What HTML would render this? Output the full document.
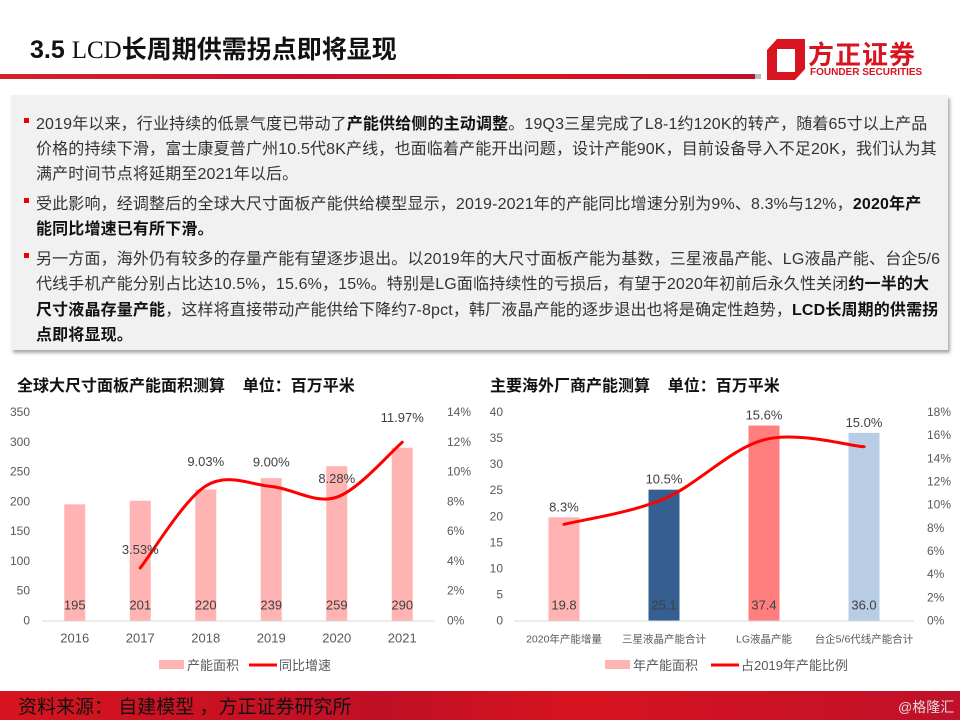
<!DOCTYPE html>
<html><head><meta charset="utf-8">
<style>
*{margin:0;padding:0;box-sizing:border-box}
body{width:960px;height:720px;background:#fff;position:relative;overflow:hidden;font-family:"Liberation Sans","Noto Sans CJK SC",sans-serif;color:#262626}
.abs{position:absolute}
.line{position:absolute;left:36px;font-size:16px;white-space:nowrap;color:#333;letter-spacing:0.15px}
.b{font-weight:bold;color:#111}
.bul{position:absolute;left:24px;width:5px;height:5px;background:#e00}
</style></head><body>
<div class="abs" style="left:30px;top:30px;font-size:25px;font-weight:bold;color:#111;font-family:'Liberation Sans','Noto Sans CJK SC',sans-serif">3.5 <span style="font-family:'Liberation Serif','Noto Serif CJK SC',serif;font-weight:normal">LCD</span>长周期供需拐点即将显现</div>
<div class="abs" style="left:0;top:74px;width:755px;height:5px;background:linear-gradient(90deg,#d2232a,#c8102e 40%,#d9141f 70%,#c0102a)"></div>
<div class="abs" style="left:755px;top:74px;width:6px;height:5px;background:#bbb"></div>
<svg class="abs" style="left:767px;top:39px" width="40" height="42"><path d="M10 0H38V30L28 41H0V11Z M10 10V33H28V10Z" fill="#d7141f" fill-rule="evenodd"/></svg>
<div class="abs" style="left:808px;top:35px;font-size:26px;font-weight:bold;color:#d7141f;letter-spacing:1px">方正证券</div>
<div class="abs" style="left:810px;top:67px;font-size:10px;font-weight:bold;color:#d7141f">FOUNDER SECURITIES</div>

<div class="abs" style="left:11px;top:95px;width:937px;height:255px;background:#f1f1f1;box-shadow:2px 3px 3px #aaa">
</div>
<div>
<div class="bul" style="top:118px"></div>
<div class="line" style="top:110px">2019年以来，行业持续的低景气度已带动了<span class="b">产能供给侧的主动调整</span>。19Q3三星完成了L8-1约120K的转产，随着65寸以上产品</div>
<div class="line" style="top:135px">价格的持续下滑，富士康夏普广州10.5代8K产线，也面临着产能开出问题，设计产能90K，目前设备导入不足20K，我们认为其</div>
<div class="line" style="top:160px">满产时间节点将延期至2021年以后。</div>
<div class="bul" style="top:198px"></div>
<div class="line" style="top:190px">受此影响，经调整后的全球大尺寸面板产能供给模型显示，2019-2021年的产能同比增速分别为9%、8.3%与12%，<span class="b">2020年产</span></div>
<div class="line" style="top:215px"><span class="b">能同比增速已有所下滑。</span></div>
<div class="bul" style="top:253px"></div>
<div class="line" style="top:245px">另一方面，海外仍有较多的存量产能有望逐步退出。以2019年的大尺寸面板产能为基数，三星液晶产能、LG液晶产能、台企5/6</div>
<div class="line" style="top:270px">代线手机产能分别占比达10.5%，15.6%，15%。特别是LG面临持续性的亏损后，有望于2020年初前后永久性关闭<span class="b">约一半的大</span></div>
<div class="line" style="top:296px"><span class="b">尺寸液晶存量产能</span>，这样将直接带动产能供给下降约7-8pct，韩厂液晶产能的逐步退出也将是确定性趋势，<span class="b">LCD长周期的供需拐</span></div>
<div class="line" style="top:321px"><span class="b">点即将显现。</span></div>
</div>

<div class="abs" style="left:17px;top:372px;font-size:16px;font-weight:bold;color:#111;white-space:nowrap">全球大尺寸面板产能面积测算&nbsp;&nbsp;&nbsp;&nbsp;单位：百万平米</div>
<div class="abs" style="left:490px;top:372px;font-size:16px;font-weight:bold;color:#111;white-space:nowrap">主要海外厂商产能测算&nbsp;&nbsp;&nbsp;&nbsp;单位：百万平米</div>

<svg class="abs" id="charts" style="left:0;top:0" width="960" height="720" font-family="Liberation Sans, Noto Sans CJK SC, sans-serif"></svg>

<div class="abs" style="left:0;top:691px;width:960px;height:29px;background:linear-gradient(90deg,#d7141f,#c00f25 40%,#d7141f 60%,#c0102a)"></div>
<div class="abs" style="left:18px;top:692px;font-size:19px;color:#111;white-space:nowrap">资料来源： 自建模型 ，方正证券研究所</div>
<div class="abs" style="left:898px;top:697px;font-size:14px;color:#ddd;white-space:nowrap">@格隆汇</div>

<script>
const leftCats=["2016","2017","2018","2019","2020","2021"];
const leftBars=[195,201,220,239,259,290];
const leftGrowth=[null,3.53,9.03,9.00,8.28,11.97];
const leftYTicks=[0,50,100,150,200,250,300,350];
const leftY2Ticks=[0,2,4,6,8,10,12,14];
const rightCats=["2020年产能增量","三星液晶产能合计","LG液晶产能","台企5/6代线产能合计"];
const rightBars=[19.8,25.1,37.4,36.0];
const rightShare=[8.3,10.5,15.6,15.0];
const rightBarColors=["#ffb3b3","#355f91","#ff7f7f","#b8cce4"];
const rightYTicks=[0,5,10,15,20,25,30,35,40];
const rightY2Ticks=[0,2,4,6,8,10,12,14,16,18];

const svg=document.getElementById('charts');
const NS="http://www.w3.org/2000/svg";
function mk(tag,attrs,parent){const e=document.createElementNS(NS,tag);for(const k in attrs)e.setAttribute(k,attrs[k]);(parent||svg).appendChild(e);return e;}
function txt(x,y,s,attrs){const e=mk('text',Object.assign({x:x,y:y,'font-size':12,fill:'#595959'},attrs||{}));e.textContent=s;return e;}
function smooth(pts){let d="M"+pts[0][0]+" "+pts[0][1];for(let i=0;i<pts.length-1;i++){const p0=pts[Math.max(i-1,0)],p1=pts[i],p2=pts[i+1],p3=pts[Math.min(i+2,pts.length-1)];const t=1/6;d+=" C"+(p1[0]+(p2[0]-p0[0])*t)+" "+(p1[1]+(p2[1]-p0[1])*t)+" "+(p2[0]-(p3[0]-p1[0])*t)+" "+(p2[1]-(p3[1]-p1[1])*t)+" "+p2[0]+" "+p2[1];}return d;}

function chart(cfg){
  const g=mk('g',{});
  
  
  const y0=620.5,yTop=412;
  const ymax=cfg.yTicks[cfg.yTicks.length-1], y2max=cfg.y2Ticks[cfg.y2Ticks.length-1];
  const Y=v=>y0-(v/ymax)*(y0-yTop);
  const Y2=v=>y0-(v/y2max)*(y0-yTop);
  const n=cfg.cats.length, step=(cfg.x1-cfg.x0)/n;
  const X=i=>cfg.x0+step*(i+0.5);
  cfg.yTicks.forEach(v=>{const t=txt(cfg.yLabelX,Y(v)+4,String(v),{'text-anchor':'end'},g);g.appendChild(t);});
  cfg.y2Ticks.forEach(v=>{const t=txt(cfg.y2LabelX,Y2(v)+4,v+"%",{},g);g.appendChild(t);});
  cfg.bars.forEach((v,i)=>{
    const r=mk('rect',{x:X(i)-cfg.bw/2,y:Y(v),width:cfg.bw,height:y0-Y(v),fill:cfg.colors[i]},g);
    
    
    const t=txt(X(i),y0-11,cfg.fmt(v),{'text-anchor':'middle','font-size':13,fill:'#404040'});g.appendChild(t);
    
    
    const c=txt(X(i),y0+22,cfg.cats[i],{'text-anchor':'middle','font-size':cfg.catSize,fill:'#595959'});g.appendChild(c);
    
    
  });
  const ax=mk('line',{x1:cfg.x0,x2:cfg.x1,y1:y0+0.5,y2:y0+0.5,stroke:'#d9d9d9','stroke-width':1},g);
  
  
  const pts=[];cfg.line.forEach((v,i)=>{if(v!==null)pts.push([X(i),Y2(v),v,i]);});
  const p=mk('path',{d:smooth(pts),fill:'none',stroke:'#ff0000','stroke-width':3,'stroke-linecap':'round'},g);
  
  
  pts.forEach((q,k)=>{
    const ly=cfg.lineLabelAtBar? Y(cfg.bars[q[3]])-6 : q[1]-cfg.lblOff[k];
    const t=txt(q[0],ly,q[2].toFixed(cfg.dec)+"%",{'text-anchor':'middle','font-size':13,fill:'#404040'});g.appendChild(t);
    
    
  });
  const lx=cfg.legX;
  const lr=mk('rect',{x:lx,y:660,width:25,height:9,fill:cfg.colors[0]},g);
  
  const l1=txt(lx+28,670,cfg.leg1,{'font-size':13});g.appendChild(l1);
  
  const ll=mk('line',{x1:cfg.legX2,x2:cfg.legX2+28,y1:665,y2:665,stroke:'#ff0000','stroke-width':3},g);
  
  const l2=txt(cfg.legX2+30,670,cfg.leg2,{'font-size':13});g.appendChild(l2);
  
}
chart({name:'left-chart',cats:leftCats,bars:leftBars,line:leftGrowth,yTicks:leftYTicks,y2Ticks:leftY2Ticks,
  x0:42,x1:435,bw:21,colors:leftBars.map(()=>"#ffb3b3"),yLabelX:30,y2LabelX:447,fmt:v=>String(v),dec:2,
  lblOff:[14,20,20,14,20],catSize:13,legX:159,leg1:'产能面积',legX2:249,leg2:'同比增速'});
chart({name:'right-chart',cats:rightCats,bars:rightBars,line:rightShare,yTicks:rightYTicks,y2Ticks:rightY2Ticks,
  x0:514,x1:914,bw:31,colors:rightBarColors,yLabelX:503,y2LabelX:927,fmt:v=>v.toFixed(1),dec:1,
  lineLabelAtBar:true,catSize:10.5,legX:605,leg1:'年产能面积',legX2:711,leg2:'占2019年产能比例'});
</script>
</body></html>
